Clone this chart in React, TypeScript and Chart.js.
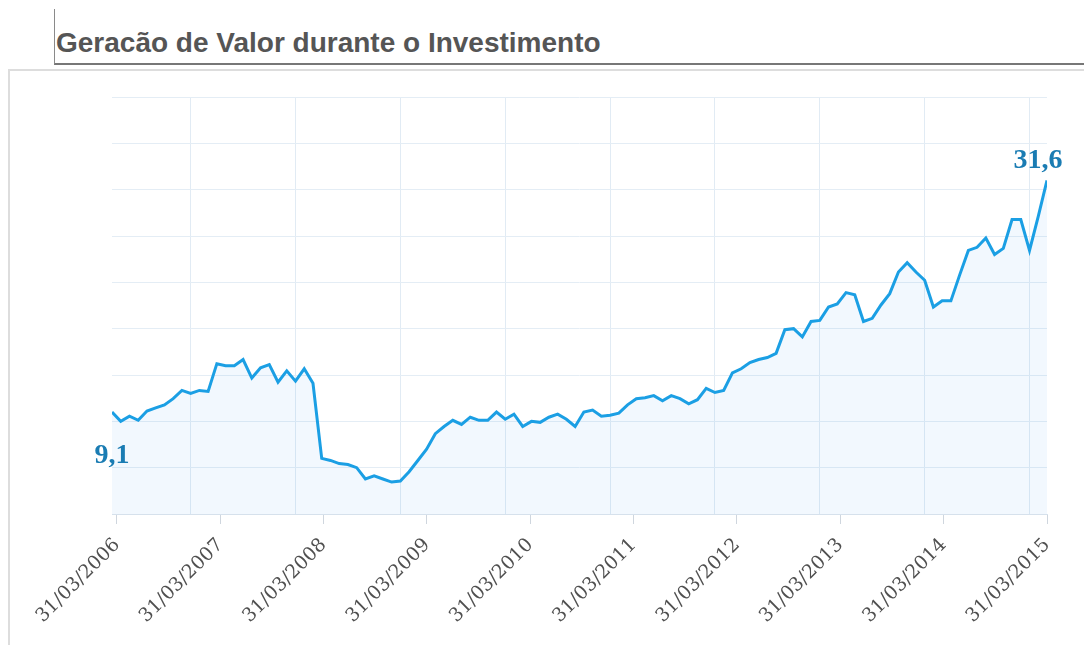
import { useEffect, useRef } from 'react';
import { Chart, registerables } from 'chart.js';

Chart.register(...registerables);

const TITLE = 'Geracão de Valor durante o Investimento';

const YEAR_LABELS = [
  '31/03/2006', '31/03/2007', '31/03/2008', '31/03/2009', '31/03/2010',
  '31/03/2011', '31/03/2012', '31/03/2013', '31/03/2014', '31/03/2015',
];

// monthly values (first and last are labelled)
const VALUES = [
  9.1, 8.2, 8.7, 8.3, 9.2, 9.5, 9.8, 10.4, 11.2, 10.9, 11.2, 11.1,
  13.8, 13.6, 13.6, 14.2, 12.4, 13.4, 13.7, 12.0, 13.1, 12.1, 13.3, 11.9,
  4.6, 4.4, 4.1, 4.0, 3.7, 2.6, 2.9, 2.6, 2.3, 2.4, 3.3, 4.4,
  5.5, 7.0, 7.7, 8.3, 7.9, 8.6, 8.3, 8.3, 9.1, 8.4, 8.9, 7.7,
  8.2, 8.1, 8.6, 8.9, 8.4, 7.7, 9.1, 9.3, 8.7, 8.8, 9.0, 9.8,
  10.4, 10.5, 10.7, 10.2, 10.7, 10.4, 9.9, 10.3, 11.4, 11.0, 11.2, 12.9,
  13.3, 13.9, 14.2, 14.4, 14.8, 17.1, 17.2, 16.4, 17.9, 18.0, 19.3, 19.6,
  20.7, 20.5, 17.9, 18.2, 19.5, 20.6, 22.7, 23.6, 22.7, 21.9, 19.3, 19.9,
  19.9, 22.4, 24.8, 25.1, 26.0, 24.4, 25.0, 27.8, 27.8, 24.8, 28.1, 31.6,
];

// axis settings
const Y_MIN = -0.8;
const Y_STEP = 4.5;
const Y_LINES = 10;
const X_GRID_FIRST = 9;
const X_GRID_STEP = 12;
const X_LABEL_FIRST = 0.57;
const X_LABEL_LAST = VALUES.length - 1;

const fmt = (v: number) => v.toFixed(1).replace('.', ',');

const valueLabels = {
  id: 'valueLabels',
  afterDatasetsDraw(chart: any) {
    const meta = chart.getDatasetMeta(0);
    const pts = meta.data;
    if (!pts.length) return;
    const ctx = chart.ctx;
    const first = pts[0];
    const last = pts[pts.length - 1];
    ctx.save();
    ctx.font = 'bold 28px "Liberation Serif"';
    ctx.fillStyle = '#1a7cb3';
    ctx.textAlign = 'center';
    ctx.textBaseline = 'alphabetic';
    ctx.fillText(fmt(VALUES[0]), first.x, first.y + 51);
    ctx.fillText(fmt(VALUES[VALUES.length - 1]), last.x - 9, last.y - 12);
    ctx.restore();
  },
};

export default function App() {
  const canvasRef = useRef<HTMLCanvasElement | null>(null);

  useEffect(() => {
    const canvas = canvasRef.current;
    if (!canvas) return;
    const nLabels = YEAR_LABELS.length;
    const labelTicks = YEAR_LABELS.map(
      (_, k) => X_LABEL_FIRST + (k * (X_LABEL_LAST - X_LABEL_FIRST)) / (nLabels - 1)
    );
    const gridTicks: number[] = [];
    for (let v = X_GRID_FIRST; v < VALUES.length - 1; v += X_GRID_STEP) gridTicks.push(v);
    const yTicks: number[] = [];
    for (let k = 0; k < Y_LINES; k++) yTicks.push(Y_MIN + k * Y_STEP);

    const chart = new Chart(canvas, {
      type: 'line',
      data: {
        datasets: [
          {
            data: VALUES.map((v, i) => ({ x: i, y: v })),
            borderColor: '#1b9fe4',
            borderWidth: 3,
            backgroundColor: 'rgba(20,120,230,0.055)',
            fill: 'start',
            pointRadius: 0,
            tension: 0,
          },
        ],
      },
      options: {
        responsive: false,
        animation: false,
        layout: { padding: { left: 112, top: 97, right: 37, bottom: 0 } },
        plugins: {
          legend: { display: false },
          tooltip: { enabled: false },
        },
        scales: {
          x: {
            type: 'linear',
            min: 0,
            max: VALUES.length - 1,
            afterBuildTicks: (s: any) => {
              s.ticks = [...labelTicks, ...gridTicks].map((value) => ({ value }));
            },
            afterFit: (s: any) => {
              s.height = 131;
            },
            ticks: {
              autoSkip: false,
              minRotation: 45,
              maxRotation: 45,
              padding: 10,
              color: '#505050',
              font: { family: '"DejaVu Serif"', size: 19 },
              callback: (_v: any, i: number) => (i < nLabels ? YEAR_LABELS[i] : ''),
            },
            grid: {
              drawOnChartArea: true,
              drawTicks: true,
              tickLength: 10,
              lineWidth: 1,
              color: (c: any) => (c.index >= nLabels ? '#e1ebf4' : 'rgba(0,0,0,0)'),
              tickColor: (c: any) => (c.index < nLabels ? '#cfd6de' : 'rgba(0,0,0,0)'),
            },
            border: { display: true, color: '#d6e1ec', width: 1 },
          },
          y: {
            type: 'linear',
            min: Y_MIN,
            max: Y_MIN + (Y_LINES - 1) * Y_STEP,
            afterBuildTicks: (s: any) => {
              s.ticks = yTicks.map((value) => ({ value }));
            },
            afterFit: (s: any) => {
              s.width = 0;
            },
            ticks: { display: false },
            grid: { color: '#e4edf5', drawTicks: false, lineWidth: 1 },
            border: { display: false },
          },
        },
      },
      plugins: [valueLabels],
    } as any);

    return () => chart.destroy();
  }, []);

  return (
    <div
      style={{
        position: 'fixed',
        left: 0,
        top: 0,
        width: 1084,
        height: 645,
        overflow: 'hidden',
        background: '#fff',
      }}
    >
      <div
        style={{
          position: 'absolute',
          left: 54,
          top: 9,
          width: 1030,
          height: 56,
          boxSizing: 'border-box',
          borderLeft: '1px solid #8a8a8a',
          borderBottom: '2px solid #777',
        }}
      >
        <div
          style={{
            position: 'absolute',
            left: 1,
            top: 20,
            fontFamily: '"Liberation Sans", Arial, sans-serif',
            fontWeight: 'bold',
            fontSize: 28,
            lineHeight: '28px',
            color: '#555',
            whiteSpace: 'nowrap',
          }}
        >
          {TITLE}
        </div>
      </div>
      <div
        style={{
          position: 'absolute',
          left: 8,
          top: 69,
          width: 1100,
          height: 600,
          boxSizing: 'border-box',
          borderLeft: '2px solid #ddd',
          borderTop: '2px solid #ddd',
        }}
      />
      <canvas
        ref={canvasRef}
        width={1084}
        height={645}
        style={{ position: 'absolute', left: 0, top: 0, width: 1084, height: 645 }}
      />
    </div>
  );
}
